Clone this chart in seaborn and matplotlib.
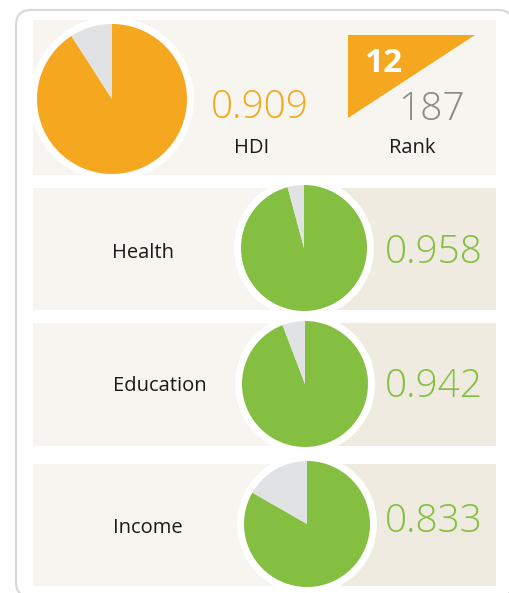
import matplotlib.pyplot as plt
import matplotlib.patches as mpatches
import seaborn as sns

# --- data ---
hdi_value = 0.909
rank_value = 12
rank_total = 187
components = ["Health", "Education", "Income"]
component_values = [0.958, 0.942, 0.833]

ORANGE = "#f5a81f"
GREEN = "#84bf41"
SLICE_GREY = "#e1e2e4"
BEIGE = "#f7f5ef"
BEIGE_DARK = "#efebe0"
RANK_GREY = "#8a8a8a"
BORDER = "#d8d8d8"

sns.set_theme(style="white")
plt.rcParams["font.family"] = ["Open Sans", "DejaVu Sans"]

W, H = 510, 593
fig = plt.figure(figsize=(5.1, 5.93), dpi=100)
ax = fig.add_axes([0, 0, 1, 1])


def py(y):
    # convert a pixel row (from top) to data y
    return H - y


def pie(ax, value, cx, cy, r, ring, color):
    ax.add_patch(mpatches.Circle((cx, py(cy)), ring, color="white", lw=0))
    ax.pie([value, 1 - value], colors=[color, SLICE_GREY], startangle=90,
           counterclock=False, center=(cx, py(cy)), radius=r,
           wedgeprops=dict(linewidth=0))


# outer rounded frame (right and bottom edges run off the picture)
ax.add_patch(mpatches.FancyBboxPatch((16, py(597)), 497, 587,
                                     boxstyle="round,pad=0,rounding_size=15",
                                     facecolor="white", edgecolor=BORDER, lw=1.5))

# --- HDI panel ---
ax.add_patch(mpatches.Rectangle((33, py(175)), 463, 155, color=BEIGE, lw=0))
pie(ax, hdi_value, 112, 99, 75, 82, ORANGE)
ax.text(260, py(118), f"{hdi_value:.3f}", color=ORANGE, fontsize=28,
        fontweight="light", ha="center", va="baseline")
ax.text(252, py(153), "HDI", color="#1a1a1a", fontsize=14.5,
        ha="center", va="baseline")

# rank triangle
ax.add_patch(mpatches.Polygon([(348, py(35)), (475, py(35)), (348, py(118))],
                              closed=True, color=ORANGE, lw=0))
ax.text(384, py(72), str(rank_value), color="white", fontsize=24,
        fontweight="bold", ha="center", va="baseline")
ax.text(432, py(120), str(rank_total), color=RANK_GREY, fontsize=28,
        fontweight="light", ha="center", va="baseline")
ax.text(412, py(153), "Rank", color="#1a1a1a", fontsize=14.5,
        ha="center", va="baseline")

# --- component panels ---
panel_top = [188, 323, 464]
panel_bottom = [310, 446, 586]
pie_cx = [304, 305, 307]
pie_cy = [248, 384, 524]
label_x = [143, 160, 148]
label_base = [258, 391, 533]
value_base = [263, 397, 532]

for i, name in enumerate(components):
    top, bot = panel_top[i], panel_bottom[i]
    ax.add_patch(mpatches.Rectangle((33, py(bot)), pie_cx[i] - 33, bot - top,
                                    color=BEIGE, lw=0))
    ax.add_patch(mpatches.Rectangle((pie_cx[i], py(bot)), 496 - pie_cx[i], bot - top,
                                    color=BEIGE_DARK, lw=0))
    pie(ax, component_values[i], pie_cx[i], pie_cy[i], 63, 70, GREEN)
    ax.text(label_x[i], py(label_base[i]), name, color="#1a1a1a", fontsize=14.5,
            ha="center", va="baseline")
    ax.text(434, py(value_base[i]), f"{component_values[i]:.3f}", color=GREEN,
            fontsize=28, fontweight="light", ha="center", va="baseline")

ax.set_xlim(0, W)
ax.set_ylim(0, H)
ax.set_aspect("equal")
ax.axis("off")

fig.savefig("out.png", dpi=100, facecolor="white")
